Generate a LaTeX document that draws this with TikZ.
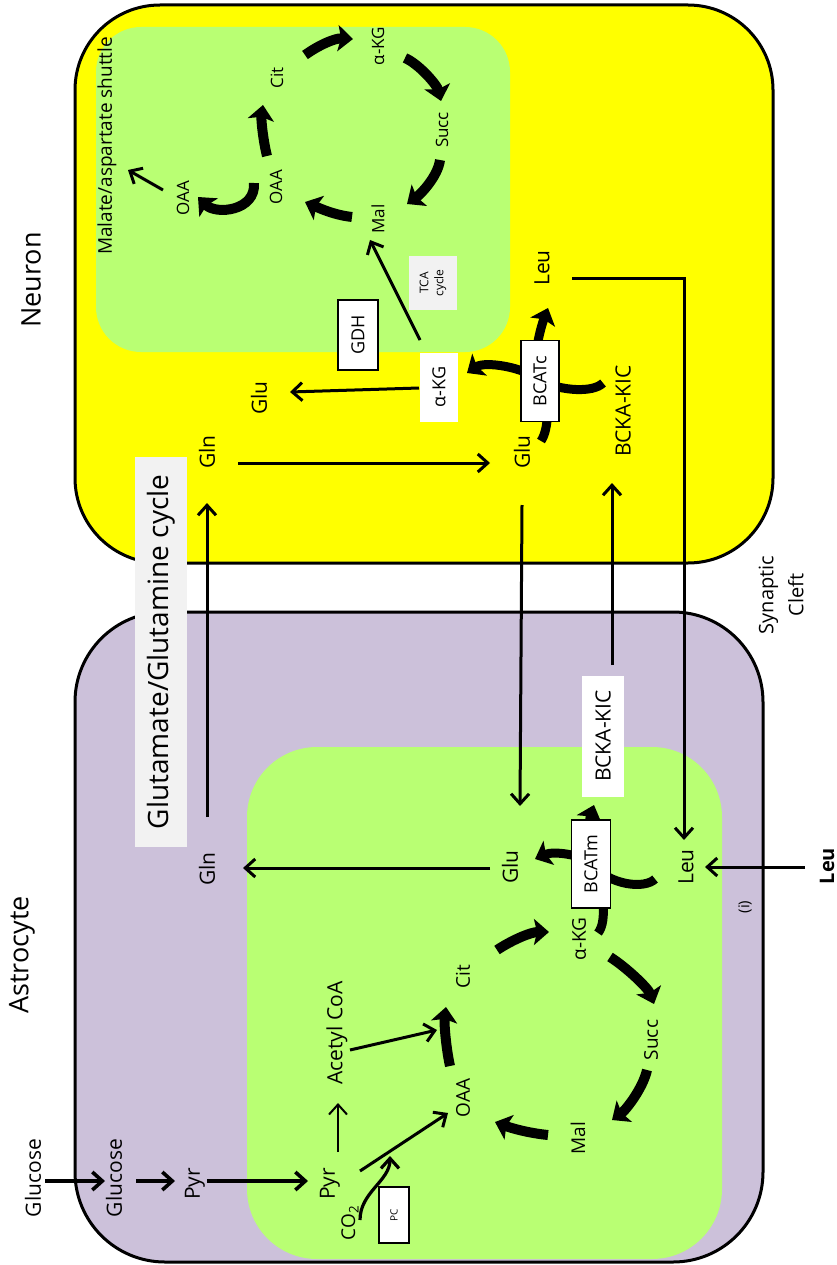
\documentclass[tikz,border=0pt]{standalone}
\usepackage{fontspec}
\setmainfont{Open Sans}
\usetikzlibrary{arrows.meta,calc}
\definecolor{neuronyellow}{HTML}{FFFF00}
\definecolor{astropurple}{HTML}{CCC1DA}
\definecolor{mitogreen}{HTML}{B9FF73}
\definecolor{labelgray}{HTML}{F2F2F2}
\pgfdeclarelayer{cells}
\pgfdeclarelayer{flux}
\pgfsetlayers{cells,flux,main}
\newcommand{\fsz}[1]{\fontsize{#1}{#1}\selectfont}

\begin{document}
\begin{tikzpicture}[x=1pt,y=-1pt,
  lab/.style={rotate=90, inner sep=1pt, font=\fsz{21}},
  small/.style={lab, font=\fsz{17}},
  mid/.style={lab, font=\fsz{19}},
  enzyme/.style={rotate=90, draw, fill=white, line width=1.4pt, inner sep=1pt, font=\fsz{18}},
  tag/.style={rotate=90, fill=white, inner sep=1pt},
  conn/.style={line width=3pt, -{Straight Barb[length=10pt,width=18pt]}},
  feed/.style={conn, line width=3.6pt},
  tca/.style={line width=10pt, -{Stealth[length=15pt,width=26pt,inset=3pt]}},
  bcat/.style={tca, line width=9pt}]
\useasboundingbox (0,0) rectangle (837,1265);

% cells
\begin{pgfonlayer}{cells}
\draw[line width=3pt, fill=neuronyellow, rounded corners=85pt] (75,5) rectangle (773,563);
\fill[mitogreen, rounded corners=45pt] (96,27) rectangle (510,352);
\draw[line width=3pt, fill=astropurple, rounded corners=90pt] (75,612) rectangle (763,1262);
\fill[mitogreen, rounded corners=70pt] (247,747) rectangle (722,1259);
\end{pgfonlayer}

% neuron
\node[lab, font=\fsz{27}] (neuron) at (31,280) {Neuron};
\node[lab, font=\fsz{19}] (mas) at (107,146) {Malate/aspartate shuttle};
\node[small] (oaa-o) at (183,198) {OAA};
\node[small] (oaa-i) at (276,187) {OAA};
\node[small] (cit-n) at (277,78) {Cit};
\node[small] (akg-n1) at (378,46) {α-KG};
\node[small] (succ-n) at (442,130) {Succ};
\node[small] (mal-n) at (378,219) {Mal};
\node[rotate=90, fill=labelgray, minimum width=54pt, minimum height=48pt, inner sep=0pt,
  align=center, font=\fontsize{12}{15}\selectfont] (tca) at (433,283) {TCA\\cycle};
\node[enzyme, minimum width=70pt, minimum height=40pt] (gdh) at (358,335) {GDH};
\node[lab] (glu-n1) at (259,398) {Glu};
\node[tag, minimum width=69pt, minimum height=38pt, font=\fsz{18}] (akg-n2) at (439,387) {α-KG};
\node[enzyme, minimum width=81pt, minimum height=38pt] (bcatc) at (540,381) {BCATc};
\node[lab] (leu-n) at (542,268) {Leu};
\node[lab] (bckakic-n) at (623,411) {BCKA-KIC};
\node[lab] (glu-n2) at (522,452) {Glu};
\node[lab] (gln-n) at (207,452) {Gln};

% cleft
\node[lab, align=center, font=\fontsize{20}{30}\selectfont] (cleft) at (781,595) {Synaptic\\Cleft};
\node[rotate=90, fill=labelgray, minimum width=390pt, minimum height=52pt, font=\fsz{28}] (ggcycle) at (161,652) {Glutamate/Glutamine cycle};

% astrocyte
\node[lab, font=\fsz{27}] (astro) at (22,955) {Astrocyte};
\node[lab] (gln-a) at (207,869) {Gln};
\node[lab] (glu-a) at (510,867) {Glu};
\node[enzyme, minimum width=88pt, minimum height=39pt] (bcatm) at (591,864) {BCATm};
\node[tag, minimum width=121pt, minimum height=42pt, font=\fsz{21}] (bckakic-a) at (603,736) {BCKA-KIC};
\node[lab] (leu-a) at (686,867) {Leu};
\node[lab, font=\bfseries\fsz{20}] (leu-o) at (827,866) {Leu};
\node[lab, font=\fsz{15}] (i-lab) at (745,907) {(i)};
\node[mid] (akg-a) at (579,939) {α-KG};
\node[mid] (cit-a) at (463,977) {Cit};
\node[mid] (succ-a) at (651,1040) {Succ};
\node[mid] (oaa-a) at (463,1098) {OAA};
\node[mid] (mal-a) at (578,1138) {Mal};
\node[lab, font=\fsz{21}] (acoa) at (337,1033) {Acetyl CoA};
\node[lab] (pyr-g) at (330,1184) {Pyr};
\node[lab] (pyr-c) at (195,1184) {Pyr};
\node[lab] (gluc-c) at (114,1178) {Glucose};
\node[lab] (gluc-o) at (33,1178) {Glucose};
\node[lab, font=\fsz{19}] (co2) at (350,1223) {CO\textsubscript{2}};
\node[enzyme, minimum width=56pt, minimum height=30pt, font=\fsz{10}] (pc) at (394,1215) {PC};
\coordinate (pcjoin) at (390,1156);

\begin{pgfonlayer}{flux}
% neuron TCA
\draw[tca] ($(cit-n)+(28,-23)$) .. controls +(14,-10) and +(-18,-1) .. ($(akg-n1)+(-25,-7)$);
\draw[tca] ($(akg-n1)+(27,12)$) .. controls +(14,6) and +(-4,-16) .. ($(succ-n)+(-1,-29)$);
\draw[tca] ($(succ-n)+(-2,30)$) .. controls +(-2,16) and +(14,-10) .. ($(mal-n)+(29,-15)$);
\draw[tca] ($(mal-n)+(-26,-2)$) .. controls +(-18,-2) and +(14,6) .. ($(oaa-i)+(29,15)$);
\draw[tca] ($(oaa-i)+(-9,-31)$) .. controls +(-4,-16) and +(-2,14) .. ($(cit-n)+(-14,27)$);
\draw[tca] ($(oaa-i)+(-22,-4)$) .. controls +(2,28) and +(18,18) .. ($(oaa-o)+(15,-1)$);
\draw[conn] ($(oaa-o)+(-20,-8)$) -- ($(mas)+(21,24)$);
% neuron BCATc
\draw[bcat] ($(bckakic-n)+(-20,-28)$) .. controls +(-10,10) and +(22,10) .. (bcatc.center)
  .. controls +(-15,-14) and +(18,-12) .. ($(akg-n2)+(28,-14)$);
\draw[bcat] ($(glu-n2)+(19,-11)$) .. controls +(8,-12) and +(10,20) .. (bcatc.center)
  .. controls +(-10,-20) and +(-6,16) .. ($(leu-n)+(6,40)$);
\draw[conn] ($(akg-n2)+(-20,1)$) -- ($(glu-n1)+(31,-6)$);
\draw[conn] ($(akg-n2)+(-19,-47)$) -- ($(mal-n)+(-8,21)$);
\draw[conn] ($(gln-n)+(31,11)$) -- ($(glu-n2)+(-32,11)$);
% between cells
\draw[conn] ($(leu-n)+(30,10)$) -| ($(leu-a)+(-2,-27)$);
\draw[conn] ($(glu-n2)+(0,53)$) -- ($(glu-a)+(10,-61)$);
\draw[conn] ($(bckakic-a)+(9,-71)$) -- ($(bckakic-n)+(-11,72)$);
\draw[conn] ($(gln-a)+(0,-52)$) -- ($(gln-n)+(0,51)$);
% astrocyte
\draw[feed] ($(gluc-o)+(12,3)$) -- ($(gluc-c)+(-9,3)$);
\draw[feed] ($(gluc-c)+(22,3)$) -- ($(pyr-c)+(-20,-3)$);
\draw[feed] ($(pyr-c)+(12,-3)$) -- ($(pyr-g)+(-22,-3)$);
\draw[conn, line width=2pt] ($(pyr-g)+(8,-32)$) -- ($(acoa)+(1,70)$);
\draw[conn] ($(pyr-g)+(30,-13)$) -- ($(oaa-a)+(-15,15)$);
\draw[conn, line width=3.2pt] ($(co2)+(10,-3)$) .. controls +(0,-28) and +(0,25) .. (pcjoin);
\draw[conn] ($(acoa)+(13,17)$) -- ($(cit-a)+(-26,53)$);
\draw[conn] ($(glu-a)+(-20,1)$) -- ($(gln-a)+(36,-1)$);
\draw[conn] ($(leu-o)+(-22,1)$) -- ($(leu-a)+(19,0)$);
% astrocyte TCA
\draw[tca] ($(cit-a)+(34,-27)$) .. controls +(15,-10) and +(-18,0) .. ($(akg-a)+(-30,-7)$);
\draw[tca] ($(akg-a)+(31,18)$) .. controls +(16,10) and +(-6,-16) .. ($(succ-a)+(3,-36)$);
\draw[tca] ($(succ-a)+(-4,30)$) .. controls +(-4,18) and +(14,-10) .. ($(mal-a)+(34,-18)$);
\draw[tca] ($(mal-a)+(-30,-3)$) .. controls +(-20,-2) and +(16,6) .. ($(oaa-a)+(32,24)$);
\draw[tca] ($(oaa-a)+(-13,-32)$) .. controls +(-4,-18) and +(-2,16) .. ($(cit-a)+(-17,30)$);
% astrocyte BCATm
\draw[bcat] ($(leu-a)+(-31,12)$) .. controls +(-10,10) and +(20,22) .. (bcatm.center)
  .. controls +(-6,-20) and +(-4,12) .. ($(bckakic-a)+(-9,69)$);
\draw[bcat] ($(akg-a)+(19,-6)$) .. controls +(10,-12) and +(12,22) .. (bcatm.center)
  .. controls +(-10,-10) and +(18,-8) .. ($(glu-a)+(25,-8)$);
\end{pgfonlayer}
\end{tikzpicture}
\end{document}
